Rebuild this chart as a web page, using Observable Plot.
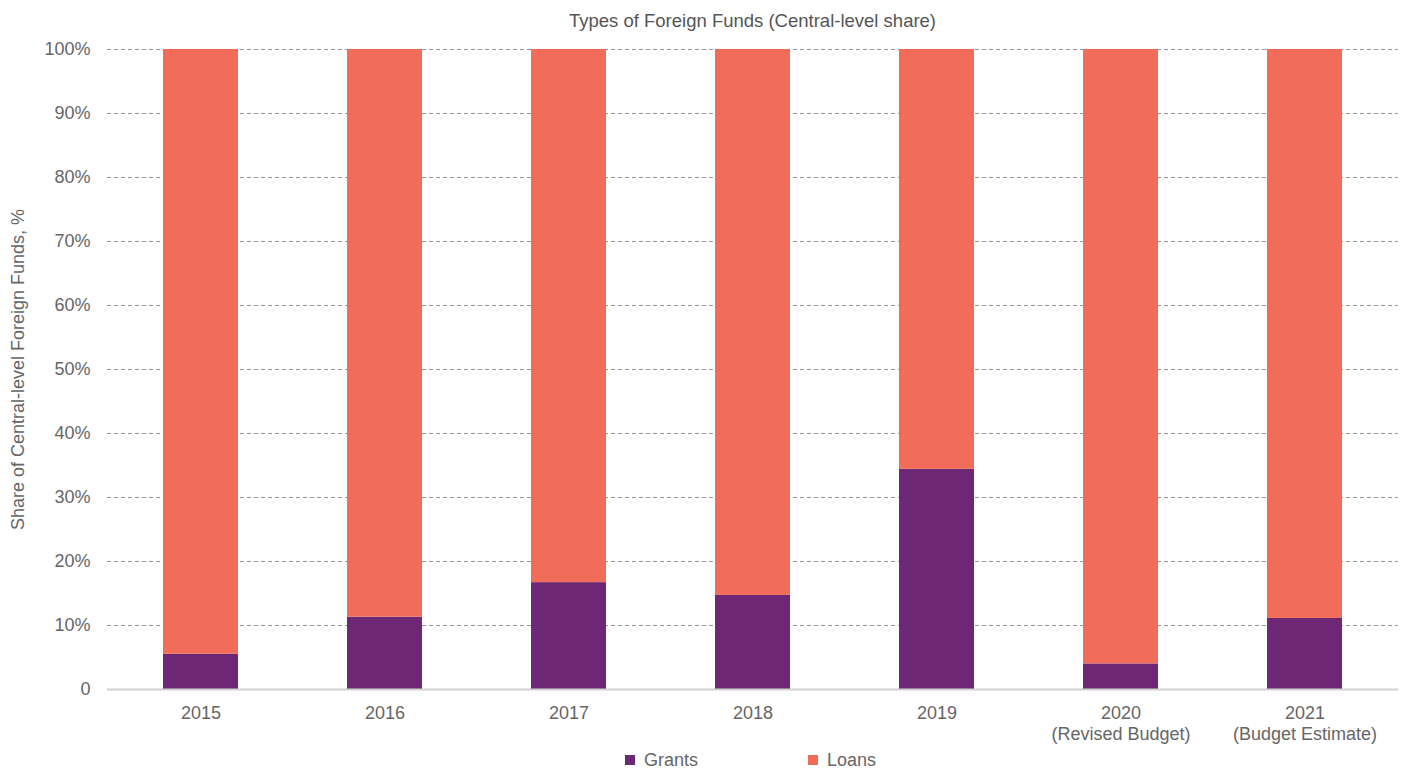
<!DOCTYPE html>
<html>
<head>
<meta charset="utf-8">
<script src="https://cdn.jsdelivr.net/npm/d3@7"></script>
<script src="https://cdn.jsdelivr.net/npm/@observablehq/plot@0.6"></script>
<style>
  html, body { margin: 0; padding: 0; background: #fff; }
  body { width: 1410px; height: 769px; position: relative; overflow: hidden; font-family: "Liberation Sans", Arial, sans-serif; color: #666; }
  #title { position: absolute; left: 107px; width: 1291px; top: 10px; text-align: center; font-size: 18.5px; line-height: 22px; color: #555; }
  #chart { position: absolute; left: 0; top: 40px; }
  #legend { position: absolute; top: 750px; left: 0; width: 1410px; height: 20px; font-size: 18px; color: #666; }
  .item { position: absolute; top: 0; display: flex; align-items: center; height: 20px; }
  .sw { width: 10px; height: 10px; margin-right: 9px; }
</style>
</head>
<body>
<div id="title">Types of Foreign Funds (Central-level share)</div>
<div id="chart"></div>
<div id="legend"></div>
<script>
const years = ["2015", "2016", "2017", "2018", "2019", "2020", "2021"];
const yearNotes = ["", "", "", "", "", "(Revised Budget)", "(Budget Estimate)"];
const seriesNames = ["Grants", "Loans"];
const seriesColors = ["#6e2774", "#f26c5a"];
const grants = [5.5, 11.3, 16.7, 14.7, 34.4, 4.0, 11.1];
const loans = [94.5, 88.7, 83.3, 85.3, 65.6, 96.0, 88.9];
const yTicks = [0, 10, 20, 30, 40, 50, 60, 70, 80, 90, 100];

const rows = [];
years.forEach((y, i) => {
  rows.push({year: y, type: "Grants", value: grants[i]});
  rows.push({year: y, type: "Loans", value: loans[i]});
});
const labelOf = new Map(years.map((y, i) => [y, yearNotes[i] ? y + "\n" + yearNotes[i] : y]));

const chart = Plot.plot({
  width: 1410,
  height: 709,
  marginTop: 9,
  marginLeft: 107,
  marginRight: 12,
  marginBottom: 60,
  style: {fontFamily: "'Liberation Sans', Arial, sans-serif", fontSize: "18px", color: "#666", background: "transparent"},
  x: {domain: years, paddingInner: 0.59, paddingOuter: 0.295, label: null},
  y: {domain: [0, 100], label: null},
  color: {domain: seriesNames, range: seriesColors},
  marks: [
    Plot.gridY(yTicks.filter(d => d > 0), {stroke: "#999", strokeOpacity: 1, strokeDasharray: "4,3", strokeWidth: 1}),
    Plot.barY(rows, Plot.stackY({order: seriesNames}, {x: "year", y: "value", fill: "type"})),
    Plot.ruleY([0], {stroke: "#d0d0d0", strokeWidth: 2}),
    Plot.axisY(yTicks, {tickSize: 0, tickPadding: 17, tickFormat: d => d === 0 ? "0" : d + "%", fontSize: 18, fill: "#666",
      label: "Share of Central-level Foreign Funds, %", labelAnchor: "center", labelArrow: "none", labelOffset: 96}),
    Plot.axisX({tickSize: 0, tickPadding: 14, tickFormat: d => labelOf.get(d), lineHeight: 1.2, fontSize: 18, fill: "#666", label: null})
  ]
});
document.getElementById("chart").appendChild(chart);

const legend = document.getElementById("legend");
const lefts = [625, 808];
seriesNames.forEach((n, i) => {
  const it = document.createElement("div");
  it.className = "item";
  it.style.left = lefts[i] + "px";
  const sw = document.createElement("div");
  sw.className = "sw";
  sw.style.background = seriesColors[i];
  const t = document.createElement("span");
  t.textContent = n;
  it.appendChild(sw);
  it.appendChild(t);
  legend.appendChild(it);
});
</script>
</body>
</html>
